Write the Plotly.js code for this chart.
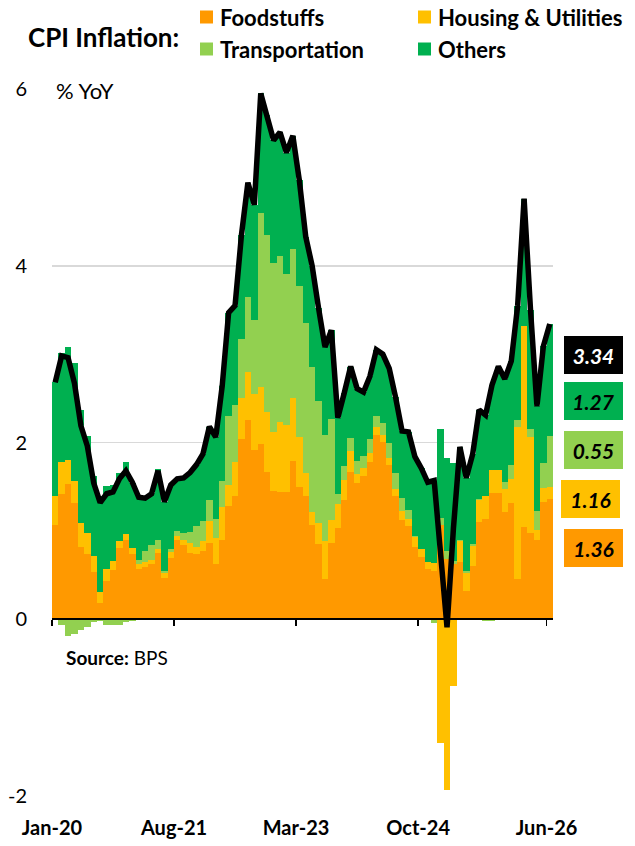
<!DOCTYPE html>
<html>
<head>
<meta charset="utf-8">
<script src="https://cdn.plot.ly/plotly-3.0.1.min.js"></script>
<style>html,body{margin:0;padding:0;background:#fff;}#chart{width:635px;height:846px;}</style>
</head>
<body>
<div id="chart"></div>
<script>
// Monthly categories Jan-20 .. Jun-26
const months = ("Jan-20 Feb-20 Mar-20 Apr-20 May-20 Jun-20 Jul-20 Aug-20 Sep-20 Oct-20 Nov-20 Dec-20 " +
  "Jan-21 Feb-21 Mar-21 Apr-21 May-21 Jun-21 Jul-21 Aug-21 Sep-21 Oct-21 Nov-21 Dec-21 " +
  "Jan-22 Feb-22 Mar-22 Apr-22 May-22 Jun-22 Jul-22 Aug-22 Sep-22 Oct-22 Nov-22 Dec-22 " +
  "Jan-23 Feb-23 Mar-23 Apr-23 May-23 Jun-23 Jul-23 Aug-23 Sep-23 Oct-23 Nov-23 Dec-23 " +
  "Jan-24 Feb-24 Mar-24 Apr-24 May-24 Jun-24 Jul-24 Aug-24 Sep-24 Oct-24 Nov-24 Dec-24 " +
  "Jan-25 Feb-25 Mar-25 Apr-25 May-25 Jun-25 Jul-25 Aug-25 Sep-25 Oct-25 Nov-25 Dec-25 " +
  "Jan-26 Feb-26 Mar-26 Apr-26 May-26 Jun-26").split(" ");

const tickLabels = ["Jan-20", "Aug-21", "Mar-23", "Oct-24", "Jun-26"];
const yTickValues = [-2, 0, 2, 4, 6];
const yTickLabels = ["-2", "0", "2", "4", "6"];

const foodstuffs = [1.07,1.42,1.53,1.32,0.82,0.74,0.53,0.18,0.43,0.56,0.81,0.90,
  0.74,0.57,0.59,0.62,0.75,0.47,0.69,0.90,0.84,0.75,0.74,0.77,
  0.86,0.62,0.90,1.28,1.39,2.04,2.25,1.92,1.98,1.67,1.45,1.44,
  1.44,1.79,1.50,1.39,1.07,0.85,0.46,0.86,1.03,1.35,1.67,1.54,
  1.62,1.78,2.08,2.01,1.75,1.40,1.12,1.05,0.82,0.70,0.57,0.55,
  1.07,0.68,0.62,0.65,0.32,0.60,1.10,1.13,1.43,1.43,1.21,1.32,
  0.45,1.04,0.98,0.90,1.33,1.36];

const housing = [0.33,0.36,0.27,0.24,0.27,0.24,0.19,0.13,0.14,0.10,0.07,0.07,
  0.07,0.05,0.06,0.05,0.05,0.05,0.07,0.04,0.06,0.11,0.08,0.11,
  0.25,0.30,0.37,0.24,0.39,0.46,0.55,0.63,0.65,0.67,0.67,0.79,
  0.76,0.71,0.56,0.26,0.14,0.24,0.43,0.26,0.27,0.23,0.23,0.10,
  0.09,0.10,0.10,0.07,0.07,0.07,0.10,0.08,0.11,0.10,0.08,0.09,
  -1.40,-1.93,-0.75,0.23,0.20,0.23,0.25,0.26,0.26,0.26,0.26,0.27,
  1.73,2.28,1.08,0.11,0.15,0.14];

const transportation = [0,-0.07,-0.19,-0.17,-0.12,-0.09,-0.03,-0.02,-0.07,-0.07,-0.06,-0.03,
  -0.02,0.05,0.12,0.17,0.10,0.03,0.04,0.06,0.08,0.13,0.23,0.23,
  0.24,0.21,0.29,0.78,0.65,0.67,0.85,0.84,1.97,2.01,1.91,1.88,
  1.71,1.69,1.71,1.70,1.65,1.38,1.19,1.15,0.12,0.15,0.15,0.15,
  0.14,0.16,0.12,0.14,0.18,0.19,0.15,0.11,0.01,0,0,-0.04,
  0.08,0.09,0.04,0.02,0.03,0.02,0.01,-0.02,-0.02,0,0.08,0.15,
  0.07,0,0.09,0.21,0.29,0.57];

const others = [1.28,1.23,1.28,1.34,1.28,1.09,0.90,1.08,0.94,0.86,0.77,0.81,
  0.73,0.72,0.63,0.59,0.80,0.78,0.72,0.59,0.62,0.67,0.70,0.76,
  0.83,0.93,1.08,1.17,1.12,1.18,1.29,1.30,1.35,1.36,1.39,1.40,
  1.37,1.28,1.20,0.98,1.14,1.05,1.00,1.00,0.86,0.83,0.81,0.82,
  0.72,0.71,0.75,0.78,0.84,0.85,0.76,0.88,0.90,0.91,0.90,0.93,
  1.00,1.06,1.11,1.05,1.05,1.02,1.01,0.92,0.96,1.17,1.17,1.18,
  1.30,1.44,1.35,1.19,1.32,1.27];

const headline = [2.68,2.98,2.96,2.67,2.19,1.96,1.54,1.32,1.42,1.44,1.59,1.68,
  1.55,1.38,1.37,1.42,1.68,1.33,1.52,1.59,1.60,1.66,1.75,1.87,
  2.18,2.06,2.64,3.47,3.55,4.35,4.94,4.69,5.95,5.71,5.42,5.51,
  5.28,5.47,4.97,4.33,4.00,3.52,3.08,3.27,2.28,2.56,2.86,2.61,
  2.57,2.75,3.05,3.00,2.84,2.51,2.13,2.12,1.84,1.71,1.55,1.57,
  0.76,-0.09,1.03,1.95,1.60,1.87,2.37,2.31,2.65,2.86,2.72,2.92,
  3.55,4.76,3.50,2.41,3.09,3.34];

// Latest-value labels shown at the right of the chart
const latestLabels = ["3.34", "1.27", "0.55", "1.16", "1.36"];
const latestFill = ["#000000", "#00B050", "#92D050", "#FFC000", "#FF9900"];
const latestInk = ["#ffffff", "#000000", "#000000", "#000000", "#000000"];

const seriesNames = ["Foodstuffs", "Housing & Utilities", "Transportation", "Others"];
const seriesColors = ["#FF9900", "#FFC000", "#92D050", "#00B050"];
const seriesData = [foodstuffs, housing, transportation, others];

// ---------- layout helpers ----------
const W = 635, H = 846;
const M = {l: 52, r: 82, t: 89, b: 50};
const PW = W - M.l - M.r, PH = H - M.t - M.b;
const px = x => (x - M.l) / PW;
const py = y => (H - M.b - y) / PH;

const idx = months.map((m, i) => i);
const tickVals = tickLabels.map(t => months.indexOf(t) - 0.5);

const traces = seriesData.map((d, k) => ({
  type: "bar", name: seriesNames[k], x: idx, y: d,
  marker: {color: seriesColors[k], line: {width: 0}},
  hoverinfo: "skip", showlegend: false
}));
traces.push({
  type: "scatter", mode: "lines", name: "CPI", x: idx, y: headline,
  xaxis: "x2", yaxis: "y",
  line: {color: "#000000", width: 5.5}, hoverinfo: "skip", showlegend: false
});

const FONT = "Lato, 'Open Sans', sans-serif";
const annotations = [];
const shapes = [];

annotations.push({xref: "paper", yref: "paper", x: px(26), y: py(37), xanchor: "left", yanchor: "middle",
  text: "CPI Inflation:", showarrow: false, font: {family: FONT, size: 26, weight: 700, color: "#000"}});

const legPos = [[200, 17], [418, 17], [200, 49], [418, 49]];
seriesNames.forEach((n, k) => {
  const [lx, ly] = legPos[k];
  shapes.push({type: "rect", xref: "paper", yref: "paper", x0: px(lx), x1: px(lx + 13), y0: py(ly + 6.5), y1: py(ly - 6.5),
    fillcolor: seriesColors[k], line: {width: 0}});
  annotations.push({xref: "paper", yref: "paper", x: px(lx + 18), y: py(ly), xanchor: "left", yanchor: "middle",
    text: n, showarrow: false, font: {family: FONT, size: 22, weight: 700, color: "#000"}});
});

annotations.push({xref: "paper", yref: "paper", x: px(54), y: py(91), xanchor: "left", yanchor: "middle",
  text: "% YoY", showarrow: false, font: {family: FONT, size: 22, color: "#000"}});

annotations.push({xref: "paper", yref: "paper", x: px(64), y: py(657), xanchor: "left", yanchor: "middle",
  text: "<b>Source:</b> BPS", showarrow: false, font: {family: FONT, size: 19, color: "#000"}});

const boxY = [355, 401, 450, 499, 548];
const boxX = [593.5, 593.5, 593.5, 590.5, 593.5];
latestLabels.forEach((t, k) => {
  annotations.push({xref: "paper", yref: "paper", x: px(boxX[k]), y: py(boxY[k]), xanchor: "center", yanchor: "middle",
    text: t, showarrow: false, width: 59, height: 38, bgcolor: latestFill[k], borderpad: 0, borderwidth: 0,
    font: {family: FONT, size: 21, weight: 700, style: "italic", color: latestInk[k]}});
});

const layout = {
  width: W, height: H, margin: M,
  paper_bgcolor: "#ffffff", plot_bgcolor: "#ffffff",
  barmode: "relative", bargap: 0,
  showlegend: false,
  xaxis: {range: [-0.5, months.length - 0.5], tickvals: tickVals, ticktext: tickLabels,
    ticks: "outside", ticklen: 14, tickcolor: "rgba(0,0,0,0)", showgrid: false, zeroline: false, showline: false,
    tickfont: {family: FONT, size: 20, weight: 700, color: "#000"}, fixedrange: true},
  xaxis2: {overlaying: "x", anchor: "free", position: 0.25, range: [-0.5, months.length - 0.5],
    tickvals: tickVals, ticks: "outside", ticklen: 6, tickwidth: 1.5, tickcolor: "#000",
    showticklabels: false, showgrid: false, zeroline: false, showline: true, linecolor: "#000", linewidth: 2},
  yaxis: {range: [-2, 6], tickvals: yTickValues, ticktext: yTickLabels, showgrid: true, gridcolor: "#D9D9D9", gridwidth: 1.5,
    zeroline: false, showline: false, ticks: "outside", ticklen: 20, tickcolor: "rgba(0,0,0,0)",
    tickfont: {family: FONT, size: 20, color: "#000"}, fixedrange: true},
  annotations: annotations, shapes: shapes
};

Plotly.newPlot("chart", traces, layout, {displayModeBar: false, staticPlot: true});
</script>
</body>
</html>
